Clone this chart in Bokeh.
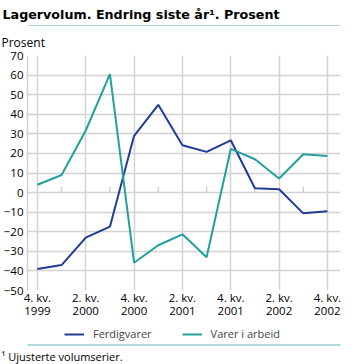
from bokeh.plotting import figure
from bokeh.layouts import column
from bokeh.models import (ColumnDataSource, Legend, LegendItem, Range1d, FixedTicker,
                          LinearAxis, Title, BoxAnnotation)
from bokeh.embed import file_html
from bokeh.resources import INLINE

quarter_labels = ["4. kv.", "1. kv.", "2. kv.", "3. kv.", "4. kv.",
                  "1. kv.", "2. kv.", "3. kv.", "4. kv.",
                  "1. kv.", "2. kv.", "3. kv.", "4. kv."]
year_labels = ["1999", "2000", "2000", "2000", "2000",
               "2001", "2001", "2001", "2001",
               "2002", "2002", "2002", "2002"]
ferdigvarer = [-39, -37, -23, -17.4, 29, 44.8, 24.2, 20.8, 26.7, 2.2, 1.7, -10.6, -9.5]
varer_i_arbeid = [4, 9, 31.7, 60.5, -35.8, -26.9, -21.3, -33, 22.3, 17, 7.2, 19.6, 18.7]
y_ticks = list(range(-50, 71, 10))
series_names = ["Ferdigvarer", "Varer i arbeid"]

FONT = "Open Sans"
TFONT = "DejaVu Sans"
BLUE = "#1f3c96"
TEAL = "#22a09b"
GRID = "#d2d2d2"
RULE = "#7fc6c4"
W = 357
FL = 27   # frame left offset (frames are aligned in the column)


def blank(h, top=0, bottom=0, fill="white"):
    f = figure(width=W, height=h, output_backend="svg", toolbar_location=None, title=None,
               x_range=Range1d(0, 1), y_range=Range1d(0, 1),
               x_axis_location=None, y_axis_location=None,
               min_border_left=0, min_border_right=0, min_border_top=top, min_border_bottom=bottom)
    f.outline_line_color = None
    f.xgrid.visible = False
    f.ygrid.visible = False
    f.background_fill_color = fill
    if fill != "white":
        f.add_layout(BoxAnnotation(left=0, right=1, top=1, bottom=0,
                                   fill_color=fill, fill_alpha=1, line_alpha=0))
    return f


def side_title(text, size, font=FONT, bold=False, offset=0, standoff=0):
    return Title(text=text, align="left", offset=offset, standoff=standoff,
                 text_font=font, text_font_size=size,
                 text_font_style="bold" if bold else "normal", text_color="#000000")


# ---- title strip with rule (canvas rows 0..26; the 2 px frame is the rule)
title_fig = blank(26, top=24, fill=RULE)
title_fig.add_layout(side_title("Lagervolum. Endring siste år¹. Prosent", "12.7px",
                                font=TFONT, bold=True, offset=2 - FL, standoff=8), "above")

# ---- main chart (rows 26..320)
idx = list(range(len(quarter_labels)))
src = ColumnDataSource(dict(x=idx, f=ferdigvarer, v=varer_i_arbeid))

p = figure(width=W, height=294, output_backend="svg", toolbar_location=None, title=None,
           x_range=Range1d(-0.41, 12.54), y_range=Range1d(-50, 70),
           x_axis_location=None,
           min_border_left=FL, min_border_right=17, min_border_top=27, min_border_bottom=30)
p.outline_line_color = None
p.add_layout(side_title("Prosent", "12px", offset=1 - FL, standoff=10), "above")

p.yaxis.ticker = FixedTicker(ticks=y_ticks)
p.yaxis.axis_line_color = GRID
p.yaxis.axis_line_width = 1.5
p.yaxis.major_tick_line_color = None
p.yaxis.minor_tick_line_color = None
p.yaxis.major_tick_out = 0
p.yaxis.major_tick_in = 0
p.yaxis.minor_tick_out = 0
p.yaxis.major_label_standoff = 4
p.yaxis.major_label_text_font = FONT
p.yaxis.major_label_text_font_size = "11.5px"
p.yaxis.major_label_text_color = "#000000"

even = [i for i in idx if i % 2 == 0]
odd = [i for i in idx if i % 2 == 1]


def make_xaxis(labels, standoff):
    ax = LinearAxis(ticker=FixedTicker(ticks=even),
                    major_label_overrides={i: labels[i] for i in even})
    ax.axis_line_color = None
    ax.major_tick_line_color = None
    ax.minor_tick_line_color = None
    ax.major_tick_out = 0
    ax.major_tick_in = 0
    ax.minor_tick_out = 0
    ax.major_label_standoff = standoff
    ax.major_label_text_font = FONT
    ax.major_label_text_font_size = "11.5px"
    ax.major_label_text_color = "#000000"
    return ax


p.add_layout(make_xaxis(quarter_labels, -1), "below")
p.add_layout(make_xaxis(year_labels, -1), "below")

p.xgrid.ticker = FixedTicker(ticks=even)
p.xgrid.grid_line_color = GRID
p.xgrid.grid_line_width = 1.5
p.ygrid.ticker = FixedTicker(ticks=y_ticks)
p.ygrid.grid_line_color = GRID
p.ygrid.grid_line_width = 1.5

# small ticks on the zero line at odd quarters
tsrc = ColumnDataSource(dict(x=odd, y0=[0] * len(odd), y1=[3] * len(odd)))
p.segment(x0="x", y0="y0", x1="x", y1="y1", source=tsrc, line_color=GRID, line_width=1.5)

p.line("x", "f", source=src, line_color=BLUE, line_width=2)
p.line("x", "v", source=src, line_color=TEAL, line_width=2)

# ---- legend strip (rows 320..344)
leg_fig = blank(24)
nan = float("nan")
lr1 = leg_fig.line(x=[nan], y=[nan], line_color=BLUE, line_width=2)
lr2 = leg_fig.line(x=[nan], y=[nan], line_color=TEAL, line_width=2)
legend = Legend(items=[LegendItem(label=series_names[0], renderers=[lr1], index=0),
                       LegendItem(label=series_names[1], renderers=[lr2], index=0)],
                orientation="horizontal", location=(64 - FL, 3),
                border_line_alpha=0, background_fill_alpha=0,
                glyph_width=20, glyph_height=14, label_standoff=9, spacing=30,
                padding=0, margin=0,
                label_text_font=FONT, label_text_font_size="11px")
leg_fig.add_layout(legend, "center")

# ---- rule + footnote strip (rows 344..364; the 2 px frame is the rule)
foot_fig = blank(20, bottom=18, fill=RULE)
foot_fig.add_layout(side_title("¹ Ujusterte volumserier.", "11px", offset=1 - FL, standoff=2),
                    "below")

layout = column(title_fig, p, leg_fig, foot_fig, spacing=0)
open("out.html", "w").write(file_html(layout, INLINE))
